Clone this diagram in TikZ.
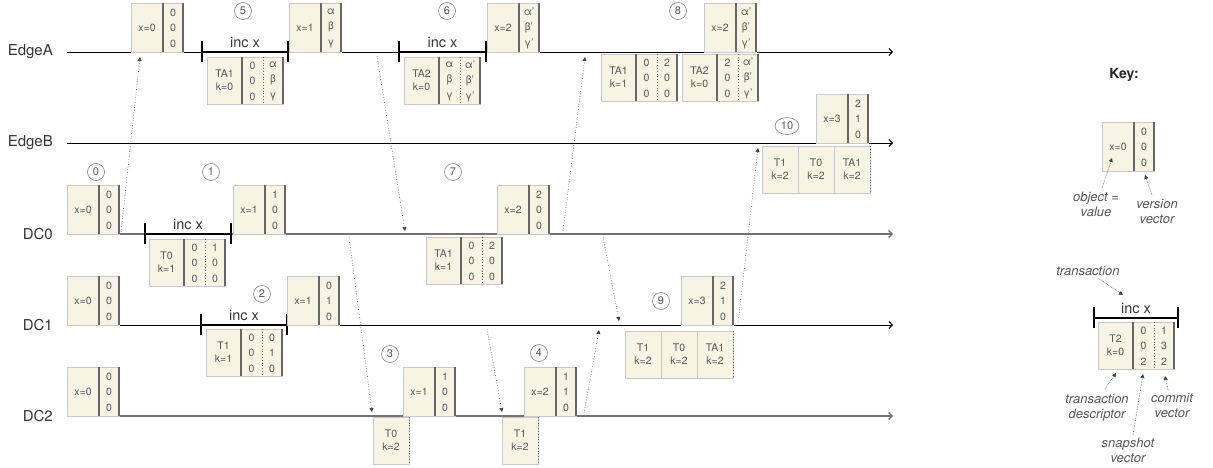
\documentclass[tikz,border=0pt]{standalone}
\usepackage{fontspec}
\setmainfont{TeX Gyre Heros}
\usetikzlibrary{arrows.meta,shapes.geometric}
\definecolor{cream}{HTML}{F7F4E4}
\definecolor{bline}{HTML}{C8C8C8}
\definecolor{dkdiv}{HTML}{666666}
\definecolor{txtc}{HTML}{555555}
\definecolor{lblc}{HTML}{333333}
\tikzset{
 boxbg/.style={fill=cream, draw=bline, line width=0.5pt, inner sep=0},
 thdiv/.style={draw=dkdiv, line width=2pt},
 dotdiv/.style={draw=dkdiv, line width=0.8pt, dotted},
 btxt/.style={font=\fontsize{10.5}{13}\selectfont, text=txtc, align=center, inner sep=0},
 vtxt/.style={font=\fontsize{10.5}{15.5}\selectfont, text=txtc, align=center, inner sep=0},
 tl/.style={draw=black, line width=0.9pt, -{Straight Barb[length=3.5pt,width=7pt]}},
 tlgray/.style={tl, draw=black!55, line width=1.4pt},
 lbl/.style={font=\fontsize{15}{17}\selectfont, text=lblc, anchor=east, inner sep=0},
 incbar/.style={draw=black, line width=2pt},
 inctxt/.style={font=\fontsize{14.5}{17}\selectfont, text=lblc, inner sep=0, anchor=base},
 num/.style={circle, draw=black!50, line width=0.6pt, minimum size=17pt, inner sep=0, font=\fontsize{11}{12}\selectfont, text=txtc},
 msg/.style={dotted, line width=0.6pt, draw=black!75, -{Triangle[length=4pt,width=4pt]}},
 keytxt/.style={font=\itshape\fontsize{13}{15}\selectfont, text=txtc, align=center, inner sep=0},
 keyarr/.style={densely dotted, line width=0.6pt, draw=black!75, -{Triangle[length=4pt,width=4pt]}},
}
% object box: name, left x, bottom y, label, column
\newcommand\mkobj[5]{%
 \node[boxbg, anchor=south west, minimum width=52pt, minimum height=49pt] (#1) at (#2,#3) {};
 \draw[thdiv] (#2+32,#3) -- (#2+32,#3-49) (#2+52,#3) -- (#2+52,#3-49);
 \node[btxt] (#1l) at (#2+16,#3-24.5) {#4};
 \node[vtxt] (#1v) at (#2+42,#3-24) {#5};
}
% transaction box: name, left x, top y, descriptor, snapshot col, commit col
\newcommand\mktr[6]{%
 \node[boxbg, anchor=north west, minimum width=76pt, minimum height=47pt] (#1) at (#2,#3) {};
 \draw[thdiv] (#2+35,#3) -- (#2+35,#3+47) (#2+76,#3) -- (#2+76,#3+47);
 \draw[dotdiv] (#2+56,#3) -- (#2+56,#3+47);
 \node[btxt] (#1d) at (#2+17.5,#3+23.5) {#4};
 \node[vtxt] (#1a) at (#2+45.5,#3+24) {#5};
 \node[vtxt] (#1b) at (#2+66,#3+24) {#6};
}
% descriptor cell: name, left x, top y, descriptor
\newcommand\mkcell[4]{%
 \node[boxbg, anchor=north west, minimum width=36pt, minimum height=47pt] (#1) at (#2,#3) {};
 \draw[dotdiv] (#2+36,#3) -- (#2+36,#3+47);
 \node[btxt] (#1d) at (#2+18,#3+23.5) {#4};
}
% inc x bar: name, x1, x2, y
\newcommand\mkinc[4]{%
 \coordinate (#1a) at (#2,#4);
 \coordinate (#1b) at (#3,#4);
 \draw[incbar] (#1a) -- (#1b);
 \draw[incbar] (#2,#4-11) -- (#2,#4+10) (#3,#4-11) -- (#3,#4+10);
 \node[inctxt] (#1t) at ({(#2+#3)/2},#4-5) {inc x};
}
\begin{document}
\begin{tikzpicture}[x=1pt,y=-1pt]
\useasboundingbox (0,0) rectangle (1213,467);
% timelines
\foreach \nm/\yy/\st in {EdgeA/52/tl,EdgeB/143/tl,DC0/234/tlgray,DC1/325/tl,DC2/416/tlgray}{
 \coordinate (\nm s) at (67,\yy);
 \coordinate (\nm e) at (893,\yy);
 \draw[\st] (\nm s) -- (\nm e);
 \node[lbl] (\nm l) at (53,\yy) {\nm};
}
% messages
\coordinate (m1s) at (121,232); \coordinate (m1e) at (140,57);
\coordinate (m2s) at (377,56);  \coordinate (m2e) at (405,231);
\coordinate (m3s) at (563,231); \coordinate (m3e) at (585,57);
\coordinate (m4s) at (349,237); \coordinate (m4e) at (372,412);
\coordinate (m5s) at (603,237); \coordinate (m5e) at (619,321);
\coordinate (m6s) at (487,329); \coordinate (m6e) at (502,412);
\coordinate (m7s) at (584,413); \coordinate (m7e) at (599,330);
\coordinate (m8s) at (738,323); \coordinate (m8e) at (758,148);
\foreach \i in {1,...,8}{\draw[msg] (m\i s) -- (m\i e);}
% inc bars
\mkinc{iA1}{202}{288}{52}
\mkinc{iA2}{399}{486}{52}
\mkinc{i0}{145}{231}{234}
\mkinc{i1}{201}{287}{325}
% EdgeA
\mkobj{oA0}{131}{52}{x=0}{0\\0\\0}
\mkobj{oA1}{289}{52}{x=1}{α\\β\\γ}
\mkobj{oA2}{487}{52}{x=2}{α'\\β'\\γ'}
\mkobj{oA3}{704}{52}{x=2}{α'\\β'\\γ'}
\mktr{tA1}{207}{57}{TA1\\k=0}{0\\0\\0}{α\\β\\γ}
\mktr{tA2}{404}{57}{TA2\\k=0}{α\\β\\γ}{α'\\β'\\γ'}
\mktr{tA3}{601}{54}{TA1\\k=1}{0\\0\\0}{2\\0\\0}
\mktr{tA4}{682}{54}{TA2\\k=0}{2\\0\\0}{α'\\β'\\γ'}
% EdgeB
\mkobj{oB}{816}{143}{x=3}{2\\1\\0}
\mkcell{kD1}{762}{146}{T1\\k=2}
\mkcell{kD2}{798}{146}{T0\\k=2}
\mkcell{kD3}{834}{146}{TA1\\k=2}
% DC0
\mkobj{o00}{67}{234}{x=0}{0\\0\\0}
\mkobj{o01}{233}{234}{x=1}{1\\0\\0}
\mkobj{o02}{497}{234}{x=2}{2\\0\\0}
\mktr{t0}{149}{239}{T0\\k=1}{0\\0\\0}{1\\0\\0}
\mktr{t1}{426}{237}{TA1\\k=1}{0\\0\\0}{2\\0\\0}
% DC1
\mkobj{o10}{67}{325}{x=0}{0\\0\\0}
\mkobj{o11}{287}{325}{x=1}{0\\1\\0}
\mkobj{o12}{681}{325}{x=3}{2\\1\\0}
\mktr{t2}{206}{329}{T1\\k=1}{0\\0\\0}{0\\1\\0}
\mkcell{kC1}{625}{331}{T1\\k=2}
\mkcell{kC2}{661}{331}{T0\\k=2}
\mkcell{kC3}{697}{331}{TA1\\k=2}
% DC2
\mkobj{o20}{67}{416}{x=0}{0\\0\\0}
\mkobj{o21}{403}{416}{x=1}{1\\0\\0}
\mkobj{o22}{524}{416}{x=2}{1\\1\\0}
\mkcell{kA}{373}{417}{T0\\k=2}
\mkcell{kB}{502}{417}{T1\\k=2}
% step numbers
\node[num] (n0) at (96,172) {0};
\node[num] (n1) at (211,172) {1};
\node[num] (n2) at (262,294) {2};
\node[num] (n3) at (390,354) {3};
\node[num] (n4) at (539,353) {4};
\node[num] (n5) at (243,11) {5};
\node[num] (n6) at (447,11) {6};
\node[num] (n7) at (453,172) {7};
\node[num] (n8) at (678,11) {8};
\node[num] (n9) at (661,301) {9};
\node[num, ellipse, minimum width=24pt, minimum height=17pt] (n10) at (787,126) {10};
% key
\node[font=\bfseries\fontsize{14}{16}\selectfont, text=black!85, inner sep=0] (key) at (1124,75) {Key:};
\mkobj{ko}{1102}{171}{x=0}{0\\0\\0}
\node[keytxt] (kov) at (1096,204.5) {object =\\value};
\node[keytxt] (kvv) at (1157,211.5) {version\\vector};
\coordinate (ka1s) at (1102,188); \coordinate (ka1e) at (1112,158);
\coordinate (ka2s) at (1152,195); \coordinate (ka2e) at (1145,175);
\draw[keyarr] (ka1s) -- (ka1e);
\draw[keyarr] (ka2s) -- (ka2e);
\node[keytxt] (ktr) at (1088,271) {transaction};
\mkinc{ik}{1094}{1178}{318}
\mktr{kt}{1098}{322}{T2\\k=0}{0\\0\\2}{1\\3\\2}
\node[keytxt] (ktd) at (1097,407.5) {transaction\\descriptor};
\node[keytxt] (kcv) at (1172,405.5) {commit\\vector};
\node[keytxt] (ksv) at (1128,450.5) {snapshot\\vector};
\coordinate (ka3s) at (1098,278); \coordinate (ka3e) at (1123,295);
\coordinate (ka4s) at (1105,389); \coordinate (ka4e) at (1116,373);
\coordinate (ka5s) at (1133,435); \coordinate (ka5e) at (1143,374);
\coordinate (ka6s) at (1168,390); \coordinate (ka6e) at (1165,376);
\foreach \i in {3,...,6}{\draw[keyarr] (ka\i s) -- (ka\i e);}
\end{tikzpicture}
\end{document}
